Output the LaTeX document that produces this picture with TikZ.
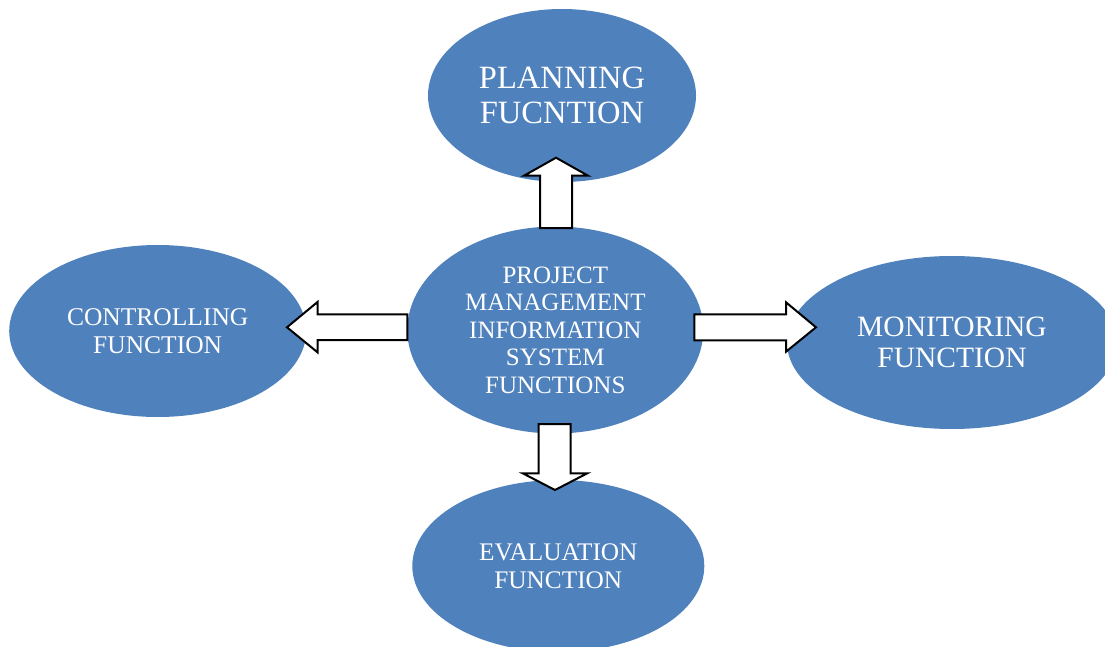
\documentclass[tikz,border=0pt]{standalone}
\usepackage{fontspec}
\setmainfont{Liberation Serif}
\usetikzlibrary{shapes.geometric}
\definecolor{fnblue}{HTML}{4F81BD}
\begin{document}
\begin{tikzpicture}[x=1pt,y=-1pt,
  func/.style={ellipse, fill=fnblue, draw=none, inner sep=0pt,
    text=white, align=center},
  blockarrow/.style={draw=black, fill=white, line width=2pt, line join=miter}]
\useasboundingbox (0,0) rectangle (1105,647);

% function ellipses
\node[func, minimum width=268pt, minimum height=173pt,
  font=\fontsize{32.5}{35}\selectfont] (plan) at (562,95.5)
  {PLANNING\\FUCNTION};
\node[func, minimum width=296pt, minimum height=207pt,
  font=\fontsize{25}{27.5}\selectfont] (pmis) at (555.3,330)
  {PROJECT\\MANAGEMENT\\INFORMATION\\SYSTEM\\FUNCTIONS};
\node[func, minimum width=297pt, minimum height=172pt,
  font=\fontsize{25.5}{28.3}\selectfont] (ctrl) at (157.7,331)
  {CONTROLLING\\FUNCTION};
\node[func, minimum width=330pt, minimum height=173pt,
  font=\fontsize{29.5}{30.5}\selectfont] (mon) at (952,342.5)
  {MONITORING\\FUNCTION};
\node[func, minimum width=292pt, minimum height=172pt,
  font=\fontsize{25.3}{27.7}\selectfont] (eval) at (558.3,566)
  {EVALUATION\\FUNCTION};

% block arrows from the centre outwards
\draw[blockarrow] (540,228) -- (540,175.7) -- (524,175.7) -- (556,157.7)
  -- (588,175.7) -- (572,175.7) -- (572,228) -- cycle;
\draw[blockarrow] (407.3,314.3) -- (317.5,314.3) -- (317.5,302) -- (287,327.3)
  -- (317.5,352.3) -- (317.5,340) -- (407.3,340) -- cycle;
\draw[blockarrow] (694.3,314.3) -- (786,314.3) -- (786,302.3) -- (816,327.3)
  -- (786,351.7) -- (786,340.3) -- (694.3,340.3) -- cycle;
\draw[blockarrow] (538.7,424) -- (538.7,473.3) -- (522.7,473.3) -- (555,490)
  -- (587.3,473.3) -- (570.7,473.3) -- (570.7,424) -- cycle;
\end{tikzpicture}
\end{document}
